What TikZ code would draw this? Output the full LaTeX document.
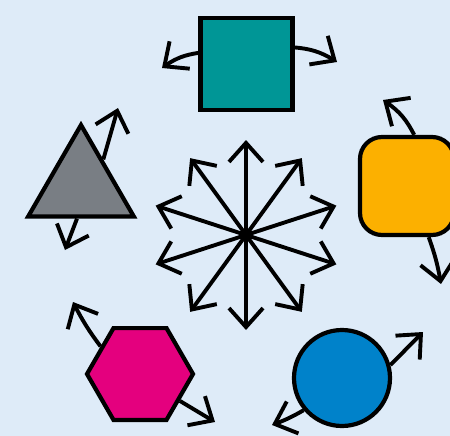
\documentclass[tikz,border=0pt]{standalone}
\usetikzlibrary{arrows.meta,shapes.geometric,calc,bending}
\definecolor{bgc}{RGB}{222,235,248}
\definecolor{teal}{RGB}{0,150,150}
\definecolor{grayc}{RGB}{121,126,132}
\definecolor{orangec}{RGB}{252,176,0}
\definecolor{magc}{RGB}{228,0,126}
\definecolor{bluec}{RGB}{0,130,202}
\tikzset{
  shp/.style={draw=black,line width=4.2pt,inner sep=0pt},
  arr/.style={draw=black,line width=3.9pt,-{Straight Barb[length=19pt,width=34pt,line width=3.9pt,flex]}}
}
\begin{document}
\begin{tikzpicture}[x=1pt,y=-1pt]
\fill[bgc] (0,0) rectangle (450,436);
\useasboundingbox (0,0) rectangle (450,436);
% hub
\coordinate (hub) at (246,235);
\foreach \a in {90,54,18,-18,-54,-90,-126,-162,162,126}{
  \path (hub) ++(\a:95pt) coordinate (s\a);
  \draw[arr] (hub) -- (s\a);
}
% square
\node[shp,fill=teal,minimum size=92pt] (sq) at (246.5,64) {};
\coordinate (sqL) at (162,68);
\coordinate (sqR) at (337,62);
\draw[arr] (sq.167) to[bend right=14] (sqL);
\draw[arr] (sq.19) to[bend left=14] (sqR);
% triangle
\node[shp,fill=grayc,regular polygon,regular polygon sides=3,minimum size=122pt] (tri) at (81,186) {};
\coordinate (triU) at (118,108);
\coordinate (triD) at (65,250);
\draw[arr] (tri.50) -- (triU);
\draw[arr] (tri.-97) -- (triD);
% rounded square
\node[shp,fill=orangec,rectangle,rounded corners=22pt,minimum width=94pt,minimum height=98pt] (rs) at (407,186) {};
\coordinate (rsU) at (383,100);
\coordinate (rsD) at (441,284);
\draw[arr] (rs.82) to[bend right=15] (rsU);
\draw[arr] (rs.-67) to[bend left=5] (rsD);
% hexagon
\node[shp,fill=magc,regular polygon,regular polygon sides=6,minimum size=106pt] (hex) at (140,374) {};
\coordinate (hexU) at (73,302);
\coordinate (hexD) at (215,422);
\draw[arr] (hex.145) to[bend left=5] (hexU);
\draw[arr] (hex.-34) -- (hexD);
% circle
\node[shp,fill=bluec,circle,minimum size=96pt] (cir) at (342,378) {};
\coordinate (cirU) at (423,332);
\coordinate (cirD) at (272,425);
\draw[arr] (cir.15) -- (cirU);
\draw[arr] (cir.-140) to[bend left=5] (cirD);
\end{tikzpicture}
\end{document}
